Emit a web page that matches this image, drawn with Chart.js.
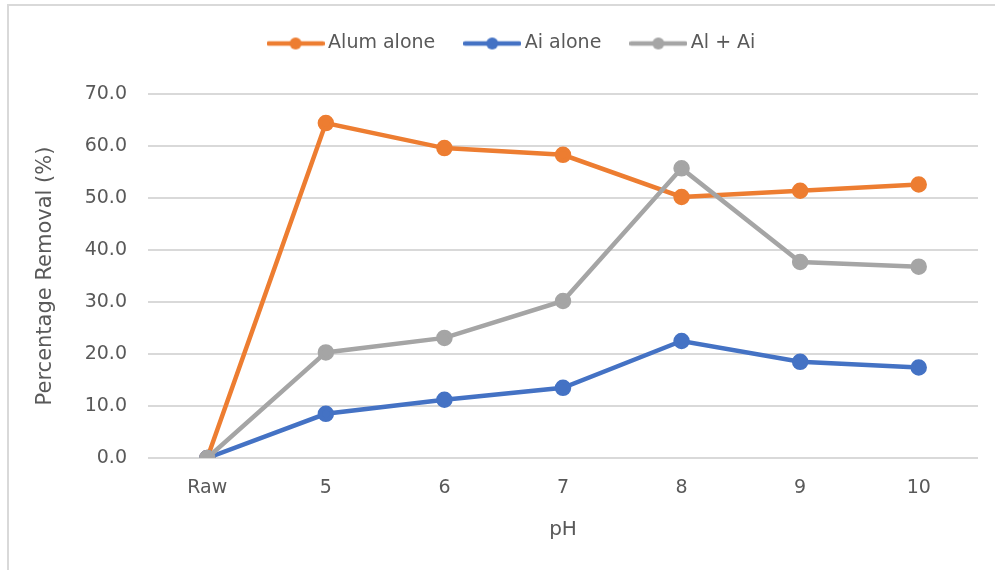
<!DOCTYPE html>
<html>
<head>
<meta charset="utf-8">
<script src="https://cdn.jsdelivr.net/npm/chart.js@4.4.1/dist/chart.umd.min.js"></script>
<style>
  html, body { margin: 0; padding: 0; background: #ffffff; overflow: hidden; }
  #wrap { width: 995px; height: 570px; position: relative; }
</style>
</head>
<body>
<div id="wrap"><canvas id="c" width="995" height="570"></canvas></div>
<script>
const categories = ['Raw', '5', '6', '7', '8', '9', '10'];
const alumAlone = [0, 64.4, 59.6, 58.3, 50.2, 51.4, 52.6];
const aiAlone   = [0, 8.5, 11.2, 13.5, 22.5, 18.5, 17.4];
const alPlusAi  = [0, 20.3, 23.1, 30.2, 55.7, 37.7, 36.8];
const seriesNames = ['Alum alone', 'Ai alone', 'Al + Ai'];
const seriesColors = ['#ED7D31', '#4472C4', '#A5A5A5'];

const FONT = 'DejaVu Sans';
const TXT = '#595959';

function legendImage(color) {
  const c = document.createElement('canvas');
  c.width = 58; c.height = 14;
  const g = c.getContext('2d');
  g.strokeStyle = color; g.lineWidth = 4.5; g.lineCap = 'round';
  g.beginPath(); g.moveTo(2, 7); g.lineTo(56, 7); g.stroke();
  g.fillStyle = color;
  g.beginPath(); g.arc(29, 7, 6, 0, Math.PI * 2); g.fill();
  return c;
}
const legendImgs = seriesColors.map(legendImage);

const borderPlugin = {
  id: 'outerBorder',
  beforeDraw(chart) {
    const ctx = chart.ctx;
    ctx.save();
    ctx.fillStyle = '#ffffff';
    ctx.fillRect(0, 0, chart.width, chart.height);
    ctx.strokeStyle = '#d9d9d9';
    ctx.lineWidth = 2;
    ctx.beginPath();
    ctx.moveTo(8, chart.height);
    ctx.lineTo(8, 5);
    ctx.lineTo(chart.width, 5);
    ctx.stroke();
    ctx.restore();
  }
};

const legendPatch = {
  id: 'legendPatch',
  beforeUpdate(chart) {
    const lg = chart.legend;
    if (!lg || lg._patched) return;
    lg._patched = true;
    const fit = lg.fit;
    lg.fit = function () { fit.call(this); this.height = 94; };
    const draw = lg.draw;
    lg.draw = function (ca) {
      const ctx = this.ctx;
      ctx.save(); ctx.translate(20, 0);
      draw.call(this, ca);
      ctx.restore();
    };
  }
};

const datasets = [alumAlone, aiAlone, alPlusAi].map((d, i) => ({
  label: seriesNames[i],
  data: d,
  borderColor: seriesColors[i],
  backgroundColor: seriesColors[i],
  pointBackgroundColor: seriesColors[i],
  pointBorderColor: seriesColors[i],
  borderWidth: 4.5,
  pointRadius: 6,
  pointHoverRadius: 6,
  tension: 0,
  order: 3 - i
}));

new Chart(document.getElementById('c'), {
  type: 'line',
  data: { labels: categories, datasets },
  plugins: [borderPlugin, legendPatch],
  options: {
    responsive: false,
    animation: false,
    layout: { padding: { left: 10, right: 17, top: 0, bottom: 0 } },
    plugins: {
      tooltip: { enabled: false },
      legend: {
        position: 'top',
        labels: {
          usePointStyle: true,
          pointStyleWidth: 46,
          padding: 34,
          color: TXT,
          font: { family: FONT, size: 19 },
          generateLabels(chart) {
            return chart.data.datasets.map((ds, i) => ({
              text: ds.label,
              fillStyle: seriesColors[i],
              strokeStyle: seriesColors[i],
              lineWidth: 0,
              pointStyle: legendImgs[i],
              fontColor: TXT,
              hidden: false,
              datasetIndex: i
            }));
          }
        }
      }
    },
    scales: {
      x: {
        offset: true,
        grid: { display: false, drawTicks: false },
        border: { display: false },
        ticks: { color: TXT, font: { family: FONT, size: 19 }, padding: 19, maxRotation: 0 },
        title: { display: true, text: 'pH', color: TXT, font: { family: FONT, size: 20 }, padding: { top: 0, bottom: 28 } },
        afterFit(s) { s.height = 112; }
      },
      y: {
        min: 0, max: 70,
        grid: { color: '#d9d9d9', lineWidth: 2, drawTicks: false },
        border: { display: false },
        ticks: { stepSize: 10, color: TXT, font: { family: FONT, size: 19 }, padding: 21,
          callback: v => Number(v).toFixed(1) },
        title: { display: true, text: 'Percentage Removal (%)', color: TXT, font: { family: FONT, size: 21 }, padding: { top: 23, bottom: 0 } },
        afterFit(s) { s.width = 138; }
      }
    }
  }
});
</script>
</body>
</html>
